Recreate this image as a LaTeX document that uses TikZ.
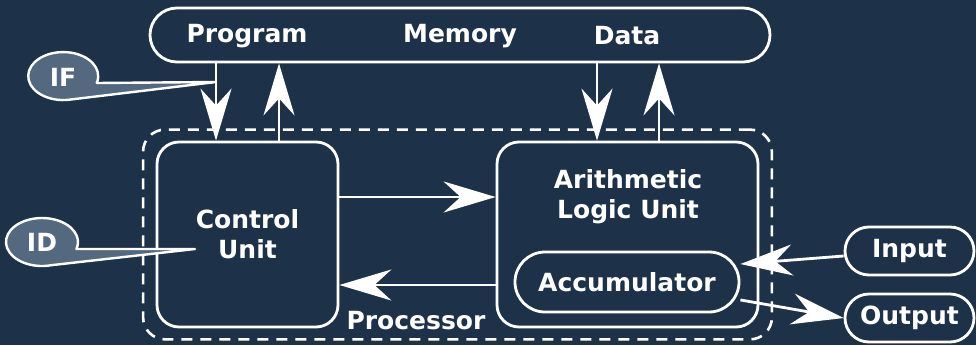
\documentclass[tikz,border=0pt]{standalone}
\usepackage{fontspec}
\setmainfont{DejaVu Sans}
\usetikzlibrary{positioning, calc, fit, arrows.meta}

\definecolor{bgnavy}{RGB}{29,50,73}
\definecolor{bubblegray}{RGB}{84,105,127}
\newcommand{\unitfont}{\fontsize{25}{30}\selectfont\bfseries}

\begin{document}
\begin{tikzpicture}[x=1pt, y=-1pt]
  \tikzstyle{unitbox}=[draw=white, line width=2.8pt, rounded corners=22pt, text=white,
  font=\unitfont, align=center, inner sep=0pt]
  \tikzstyle{procbox}=[draw=white, line width=2.6pt, dash pattern=on 11pt off 8pt, rounded corners=22pt]
  \tikzstyle{caption}=[text=white, font=\unitfont, inner sep=0pt, align=center]
  \tikzstyle{flow}=[white, line width=2.8pt, -{Stealth[length=52pt, width=31pt, inset=17pt]}]
  \tikzstyle{bubble}=[draw=white, line width=2.4pt, fill=bubblegray, line join=round]

  \fill[bgnavy] (0,0) rectangle (976,345);
  \useasboundingbox (0,0) rectangle (976,345);

  % memory
  \node (mem) at (460,35) [unitbox, rounded corners=27pt, minimum width=620pt, minimum height=54pt] {};
  \node (prog) at (247,43) [caption, anchor=base] {Program};
  \node (memlbl) at (460,43) [caption, anchor=base] {Memory};
  \node (data) at (627,45) [caption, anchor=base] {Data};

  % processor
  \node (cu) at (247.5,234.5) [unitbox, minimum width=181pt, minimum height=185pt] {Control\\Unit};
  \node (alu) at (627.5,234.5) [unitbox, minimum width=261pt, minimum height=185pt] {};
  \node (alulbl) at (628,196.5) [caption] {Arithmetic\\Logic Unit};
  \node (acc) at (627,282) [unitbox, rounded corners=30pt, minimum width=224pt, minimum height=60pt] {Accumulator};
  \node (proc) [procbox, fit=(cu)(alu), inner xsep=12.5pt, inner ysep=11pt] {};
  \node (proclbl) at (416,321) [caption] {Processor};

  % input / output
  \node (inp) at (909.5,251) [unitbox, rounded corners=24pt, minimum width=129pt, minimum height=48pt] {Input};
  \node (outp) at (909.5,318) [unitbox, rounded corners=24pt, minimum width=129pt, minimum height=48pt] {Output};

  % memory buses
  \coordinate (pdown) at ([xshift=-31.5pt]cu.north);
  \coordinate (pup) at ([xshift=31.5pt]cu.north);
  \coordinate (ddown) at ([xshift=-30.5pt]alu.north);
  \coordinate (dup) at ([xshift=31.5pt]alu.north);
  \draw[flow] (pdown |- mem.south) -- (pdown);
  \draw[flow] (pup) -- (pup |- mem.south);
  \draw[flow] (ddown |- mem.south) -- (ddown);
  \draw[flow] (dup) -- (dup |- mem.south);

  % control / alu
  \coordinate (ctlout) at ([yshift=37.5pt]cu.east);
  \coordinate (aluout) at ([yshift=-50.5pt]alu.west);
  \draw[flow] (ctlout) -- (ctlout -| alu.west);
  \draw[flow] (aluout) -- (aluout -| cu.east);

  \draw[flow] ([yshift=-5pt]inp.west) -- (acc.9);
  \draw[flow] (acc.-9) -- (outp.west);

  % callouts
  \coordinate (iftip) at (216,82);
  \coordinate (idtip) at ([shift={(-52.5pt,-14.5pt)}]cu.center);
  \draw[bubble] (97,83) -- (iftip) -- (69.3,99.7)
    arc[start angle=80, end angle=376, x radius=35, y radius=24] -- cycle;
  \node (ifbub) at (63,77) [caption] {IF};
  \draw[bubble] (76.4,249) -- (idtip) -- (51.3,265.2)
    arc[start angle=75, end angle=377, x radius=36, y radius=24] -- cycle;
  \node (idbub) at (42,242) [caption] {ID};
\end{tikzpicture}
\end{document}
